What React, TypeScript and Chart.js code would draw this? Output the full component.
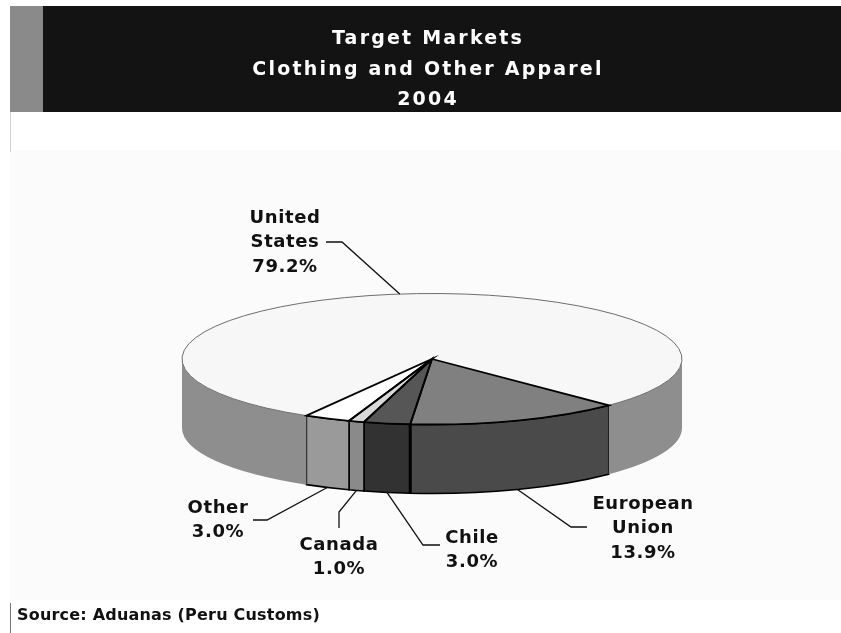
import React, { useEffect, useRef } from "react";
import { Chart, registerables } from "chart.js";

Chart.register(...registerables);

const categories = ["European Union", "Chile", "Canada", "Other", "United States"];
const shares = [13.9, 3.0, 1.0, 3.0, 79.2];
const topColors = ["#808080", "#565656", "#d8d8d8", "#ffffff", "#f7f7f7"];
const wallColors = ["#4a4a4a", "#323232", "#8a8a8a", "#9a9a9a", "#8e8e8e"];
const titleLines = ["Target Markets", "Clothing and Other Apparel", "2004"];
const sourceText = "Source: Aduanas (Peru Customs)";
const labelLines = [
  ["European", "Union", "13.9%"],
  ["Chile", "3.0%"],
  ["Canada", "1.0%"],
  ["Other", "3.0%"],
  ["United", "States", "79.2%"],
];

// label layout: centre x, first-line y, elbow x/y, leader end x
const labelBoxes = [
  { x: 643, y: 504, ex: 571, ey: 527, lx: 587, onWall: true },
  { x: 472, y: 538, ex: 423, ey: 545, lx: 440, onWall: true },
  { x: 339, y: 545, ex: 339, ey: 512, lx: 339, ly: 528, onWall: true },
  { x: 218, y: 508, ex: 267, ey: 520, lx: 253, onWall: true },
  { x: 285, y: 218, ex: 342, ey: 242, lx: 326, onWall: false },
];

const PIE_X = 432;
const PIE_Y = 359;
const TILT = 0.262;
const DEPTH = 69;
const FONT = '"DejaVu Sans", Verdana, sans-serif';

const pie3d = {
  id: "pie3d",
  beforeDraw(chart: any) {
    const { ctx, width, height } = chart;
    ctx.save();
    ctx.fillStyle = "#ffffff";
    ctx.fillRect(0, 0, width, height);
    ctx.fillStyle = "#fbfbfb";
    ctx.fillRect(10, 150, width - 10, 450);
    ctx.fillStyle = "#8a8a8a";
    ctx.fillRect(10, 6, 33, 106);
    ctx.fillStyle = "#131313";
    ctx.fillRect(43, 6, width - 43, 106);
    ctx.fillStyle = "#d0d0d0";
    ctx.fillRect(10, 112, 1, 40);
    ctx.restore();
    ctx.letterSpacing = "2.2px";
  },
  beforeDatasetsDraw(chart: any) {
    const { ctx } = chart;
    ctx.letterSpacing = "0px";
    const meta = chart.getDatasetMeta(0);
    const arcs = meta.data;
    const first = arcs[0];
    const rx = first.outerRadius;
    const ry = rx * TILT;
    const px = (a: number) => PIE_X + rx * Math.cos(a);
    const py = (a: number) => PIE_Y + ry * Math.sin(a);
    const TAU = Math.PI * 2;

    // side walls: only the front half of the rim (0..PI) is visible
    arcs.forEach((arc: any, i: number) => {
      for (const shift of [0, TAU, -TAU]) {
        const a0 = Math.max(arc.startAngle + shift, 0);
        const a1 = Math.min(arc.endAngle + shift, Math.PI);
        if (a1 <= a0) continue;
        ctx.beginPath();
        ctx.ellipse(PIE_X, PIE_Y, rx, ry, 0, a0, a1);
        ctx.ellipse(PIE_X, PIE_Y + DEPTH, rx, ry, 0, a1, a0, true);
        ctx.closePath();
        ctx.fillStyle = wallColors[i];
        ctx.fill();
        if (i < 4) {
          ctx.strokeStyle = "#000000";
          ctx.lineWidth = 1.6;
          ctx.stroke();
        }
      }
    });

    // top face, drawn by the library's own arcs under a flattening transform
    ctx.save();
    ctx.translate(PIE_X, PIE_Y);
    ctx.scale(1, TILT);
    ctx.translate(-first.x, -first.y);
    arcs.forEach((arc: any) => arc.draw(ctx));
    ctx.restore();

    // US rim in grey, others black
    const us = arcs[4];
    ctx.beginPath();
    ctx.ellipse(PIE_X, PIE_Y, rx, ry, 0, us.startAngle, us.endAngle);
    ctx.strokeStyle = "#6e6e6e";
    ctx.lineWidth = 1;
    ctx.stroke();

    arcs.slice(0, 4).forEach((arc: any) => {
      ctx.beginPath();
      ctx.moveTo(PIE_X, PIE_Y);
      ctx.lineTo(px(arc.startAngle), py(arc.startAngle));
      ctx.ellipse(PIE_X, PIE_Y, rx, ry, 0, arc.startAngle, arc.endAngle);
      ctx.closePath();
      ctx.strokeStyle = "#000000";
      ctx.lineWidth = 1.8;
      ctx.stroke();
    });
    const ca = first.endAngle;
    ctx.beginPath();
    ctx.moveTo(px(ca), py(ca));
    ctx.lineTo(px(ca), py(ca) + DEPTH);
    ctx.lineWidth = 3;
    ctx.stroke();

    // leaders and labels
    arcs.forEach((arc: any, i: number) => {
      const box: any = labelBoxes[i];
      const mid = (arc.startAngle + arc.endAngle) / 2;
      ctx.beginPath();
      ctx.moveTo(px(mid), py(mid) + (box.onWall ? DEPTH : 0));
      ctx.lineTo(box.ex, box.ey);
      ctx.lineTo(box.lx, box.ly ?? box.ey);
      ctx.strokeStyle = "#111111";
      ctx.lineWidth = 1.3;
      ctx.stroke();
      ctx.fillStyle = "#111111";
      ctx.font = `bold 18px ${FONT}`;
      ctx.textAlign = "center";
      ctx.textBaseline = "middle";
      ctx.letterSpacing = "0.6px";
      labelLines[i].forEach((t, k) => ctx.fillText(t, box.x, box.y + k * 24.8));
      ctx.letterSpacing = "0px";
    });

    // source note
    ctx.fillStyle = "#777777";
    ctx.fillRect(10, 603, 1, 30);
    ctx.fillStyle = "#111111";
    ctx.font = `bold 16px ${FONT}`;
    ctx.textAlign = "left";
    ctx.letterSpacing = "0.2px";
    ctx.fillText(sourceText, 17, 616);
    ctx.letterSpacing = "0px";
    return false;
  },
};

export default function App() {
  const ref = useRef<HTMLCanvasElement | null>(null);
  useEffect(() => {
    const chart = new Chart(ref.current as HTMLCanvasElement, {
      type: "pie",
      data: {
        labels: categories,
        datasets: [{ data: shares, backgroundColor: topColors, borderWidth: 0 }],
      },
      options: {
        animation: false,
        responsive: false,
        rotation: 135,
        layout: { padding: { left: 178, right: 163, top: 0, bottom: 17 } },
        plugins: {
          legend: { display: false },
          tooltip: { enabled: false },
          title: {
            display: true,
            text: titleLines,
            color: "#ffffff",
            fullSize: false,
            padding: { top: 24, bottom: 0 },
            font: { family: FONT, size: 19, weight: "bold", lineHeight: 1.61 },
          },
        },
      },
      plugins: [pie3d],
    } as any);
    return () => chart.destroy();
  }, []);
  return (
    <canvas
      ref={ref}
      width={841}
      height={633}
      style={{ position: "absolute", left: 0, top: 0, display: "block" }}
    />
  );
}
